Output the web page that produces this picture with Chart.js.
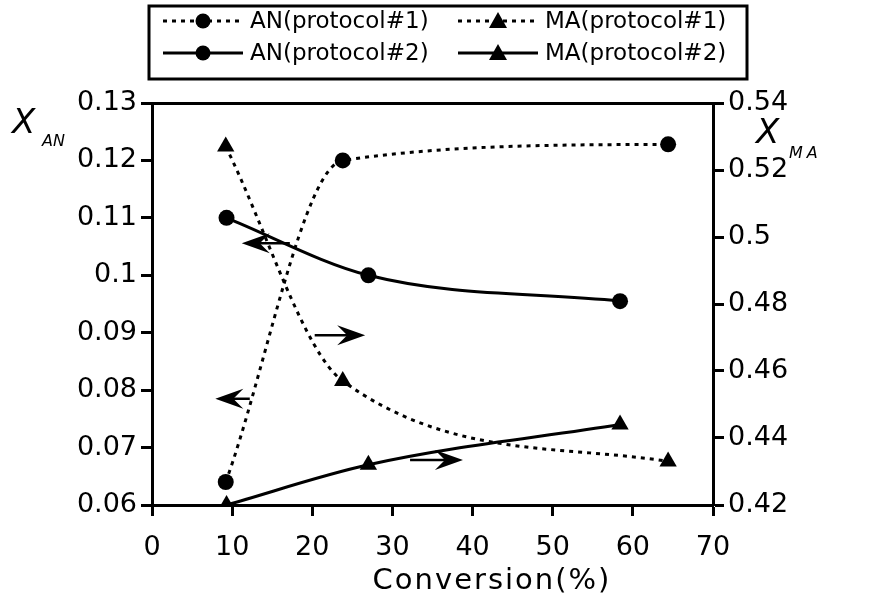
<!DOCTYPE html>
<html>
<head>
<meta charset="utf-8">
<script src="https://cdn.jsdelivr.net/npm/chart.js@4.4.1/dist/chart.umd.min.js"></script>
<style>
  html, body { margin: 0; padding: 0; background: #fff; }
  #wrap { width: 870px; height: 601px; }
</style>
</head>
<body>
<div id="wrap"><canvas id="chart" width="870" height="601"></canvas></div>
<script>
// data
const conversionP1 = [9.2, 23.8, 64.4];
const conversionP2 = [9.3, 27.0, 58.4];
const anProtocol1 = [0.064, 0.120, 0.1228];
const anProtocol2 = [0.110, 0.100, 0.0955];
const maProtocol1 = [0.527, 0.457, 0.433];
const maProtocol2 = [0.420, 0.432, 0.444];

const xTicks = [0, 10, 20, 30, 40, 50, 60, 70];
const anTicks = [0.06, 0.07, 0.08, 0.09, 0.1, 0.11, 0.12, 0.13];
const maTicks = [0.42, 0.44, 0.46, 0.48, 0.5, 0.52, 0.54];

// arrows pointing at the axis each curve belongs to: [xFrom, xTo, y, axis]
const arrows = [
  [17.2, 11.2, 0.1056, 'yAN'],
  [12.2, 7.9, 0.0785, 'yAN'],
  [20.3, 26.6, 0.4707, 'yMA'],
  [32.2, 38.8, 0.4334, 'yMA']
];

const FONT = '"DejaVu Sans", sans-serif';
const pts = (xs, ys) => xs.map((x, i) => ({ x: x, y: ys[i] }));

const legendItems = [
  { label: 'AN(protocol#1)', dash: [4, 5], style: 'circle' },
  { label: 'MA(protocol#1)', dash: [4, 5], style: 'triangle' },
  { label: 'AN(protocol#2)', dash: [], style: 'circle' },
  { label: 'MA(protocol#2)', dash: [], style: 'triangle' }
];

function marker(ctx, style, x, y) {
  ctx.beginPath();
  if (style === 'circle') {
    ctx.arc(x, y, 7.5, 0, Math.PI * 2);
  } else {
    ctx.moveTo(x, y - 9);
    ctx.lineTo(x + 9, y + 7);
    ctx.lineTo(x - 9, y + 7);
    ctx.closePath();
  }
  ctx.fill();
}

const extras = {
  id: 'extras',
  afterDraw(chart) {
    const ctx = chart.ctx;
    ctx.save();
    ctx.fillStyle = '#000';
    ctx.strokeStyle = '#000';

    // arrows
    arrows.forEach(([x0, x1, yv, ax]) => {
      const px0 = chart.scales.x.getPixelForValue(x0);
      const px1 = chart.scales.x.getPixelForValue(x1);
      const py = chart.scales[ax].getPixelForValue(yv);
      const dir = Math.sign(px1 - px0);
      ctx.lineWidth = 2.5;
      ctx.setLineDash([]);
      ctx.beginPath();
      ctx.moveTo(px0, py);
      ctx.lineTo(px1 - dir * 8, py);
      ctx.stroke();
      ctx.beginPath();
      ctx.moveTo(px1, py);
      ctx.lineTo(px1 - dir * 28, py - 10);
      ctx.lineTo(px1 - dir * 18, py);
      ctx.lineTo(px1 - dir * 28, py + 10);
      ctx.closePath();
      ctx.fill();
    });

    // axis titles
    ctx.textBaseline = 'alphabetic';
    ctx.textAlign = 'left';
    ctx.font = 'italic 34px ' + FONT;
    ctx.fillText('X', 12, 133);
    ctx.font = 'italic 16px ' + FONT;
    ctx.fillText('AN', 42, 146);
    ctx.font = 'italic 34px ' + FONT;
    ctx.fillText('X', 756, 143);
    ctx.font = 'italic 16px ' + FONT;
    ctx.letterSpacing = '4px';
    ctx.fillText('MA', 789, 158);
    ctx.font = '29px ' + FONT;
    ctx.letterSpacing = '2px';
    ctx.textAlign = 'center';
    ctx.fillText('Conversion(%)', 492, 589);
    ctx.letterSpacing = '0px';

    // legend box
    ctx.lineWidth = 3;
    ctx.strokeRect(149, 6, 598, 73);
    ctx.font = '23px ' + FONT;
    ctx.textAlign = 'left';
    ctx.textBaseline = 'middle';
    legendItems.forEach((it, i) => {
      const col = i % 2, row = Math.floor(i / 2);
      const x0 = col === 0 ? 163 : 458;
      const y = row === 0 ? 21 : 53;
      ctx.lineWidth = 3;
      ctx.setLineDash(it.dash);
      ctx.beginPath();
      ctx.moveTo(x0, y);
      ctx.lineTo(x0 + 80, y);
      ctx.stroke();
      ctx.setLineDash([]);
      marker(ctx, it.style, x0 + 40, y);
      ctx.fillText(it.label, x0 + 87, y + 1);
    });
    ctx.restore();
  }
};

function series(label, xs, ys, axis, dash, style) {
  return {
    label: label,
    data: pts(xs, ys),
    yAxisID: axis,
    borderColor: '#000',
    backgroundColor: '#000',
    borderWidth: 3,
    borderDash: dash,
    cubicInterpolationMode: 'monotone',
    pointStyle: style,
    pointRadius: style === 'circle' ? 8 : 10,
    pointBorderWidth: 0,
    fill: false
  };
}

const tickFont = { family: FONT, size: 27 };
const axisBorder = { display: true, color: '#000', width: 3 };
const tickGrid = { display: true, drawOnChartArea: false, drawTicks: true, tickLength: 11, tickWidth: 3, tickColor: '#000' };

new Chart(document.getElementById('chart'), {
  type: 'line',
  data: {
    datasets: [
      series('AN(protocol#1)', conversionP1, anProtocol1, 'yAN', [4, 5], 'circle'),
      series('AN(protocol#2)', conversionP2, anProtocol2, 'yAN', [], 'circle'),
      series('MA(protocol#1)', conversionP1, maProtocol1, 'yMA', [4, 5], 'triangle'),
      series('MA(protocol#2)', conversionP2, maProtocol2, 'yMA', [], 'triangle')
    ]
  },
  options: {
    responsive: false,
    animation: false,
    layout: { padding: 0 },
    plugins: { legend: { display: false }, tooltip: { enabled: false } },
    scales: {
      x: {
        type: 'linear', position: 'bottom', min: 0, max: 70,
        afterBuildTicks: s => { s.ticks = xTicks.map(v => ({ value: v })); },
        afterFit: s => { s.height = 96; },
        ticks: { color: '#000', font: tickFont, padding: 16, maxRotation: 0 },
        border: axisBorder, grid: tickGrid
      },
      xTop: {
        type: 'linear', position: 'top', min: 0, max: 70,
        afterFit: s => { s.height = 103; },
        ticks: { display: false },
        border: axisBorder, grid: { display: false }
      },
      yAN: {
        type: 'linear', position: 'left', min: 0.06, max: 0.13,
        afterBuildTicks: s => { s.ticks = anTicks.map(v => ({ value: v })); },
        afterFit: s => { s.width = 152; },
        ticks: { color: '#000', font: tickFont, padding: 4, callback: v => String(v) },
        border: axisBorder, grid: tickGrid
      },
      yMA: {
        type: 'linear', position: 'right', min: 0.42, max: 0.54,
        afterBuildTicks: s => { s.ticks = maTicks.map(v => ({ value: v })); },
        afterFit: s => { s.width = 157; },
        ticks: { color: '#000', font: tickFont, padding: 4, callback: v => String(v) },
        border: axisBorder, grid: tickGrid
      }
    }
  },
  plugins: [extras]
});
</script>
</body>
</html>
